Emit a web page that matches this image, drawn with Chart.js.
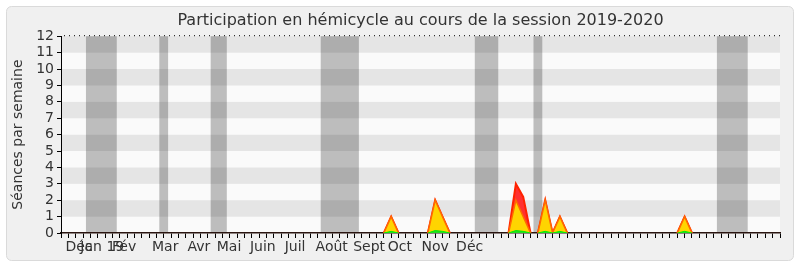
<!DOCTYPE html>
<html lang="fr">
<head>
<meta charset="UTF-8">
<title>Participation en hémicycle</title>
<script src="https://cdn.jsdelivr.net/npm/chart.js"></script>
<style>
  html, body { margin: 0; padding: 0; background: #fff; }
  #wrap { width: 800px; height: 267px; }
</style>
</head>
<body>
<div id="wrap"><canvas id="chart" width="800" height="267"></canvas></div>
<script>
// semaines de la session (0 .. 98)
const weeks = Array.from({ length: 99 }, (_, i) => i);

// séances par semaine
const totalSeances = [
  0, 0, 0, 0, 0, 0, 0, 0, 0, 0,
  0, 0, 0, 0, 0, 0, 0, 0, 0, 0,
  0, 0, 0, 0, 0, 0, 0, 0, 0, 0,
  0, 0, 0, 0, 0, 0, 0, 0, 0, 0,
  0, 0, 0, 0, 0, 1, 0, 0, 0, 0,
  0, 2, 1, 0, 0, 0, 0, 0, 0, 0,
  0, 0, 3, 2.2, 0, 0, 2, 0, 1, 0,
  0, 0, 0, 0, 0, 0, 0, 0, 0, 0,
  0, 0, 0, 0, 0, 1, 0, 0, 0, 0,
  0, 0, 0, 0, 0, 0, 0, 0, 0
];
const presences = [
  0, 0, 0, 0, 0, 0, 0, 0, 0, 0,
  0, 0, 0, 0, 0, 0, 0, 0, 0, 0,
  0, 0, 0, 0, 0, 0, 0, 0, 0, 0,
  0, 0, 0, 0, 0, 0, 0, 0, 0, 0,
  0, 0, 0, 0, 0, 1, 0, 0, 0, 0,
  0, 2, 1, 0, 0, 0, 0, 0, 0, 0,
  0, 0, 2, 1, 0, 0, 2, 0, 1, 0,
  0, 0, 0, 0, 0, 0, 0, 0, 0, 0,
  0, 0, 0, 0, 0, 1, 0, 0, 0, 0,
  0, 0, 0, 0, 0, 0, 0, 0, 0
];
const interventions = [
  0, 0, 0, 0, 0, 0, 0, 0, 0, 0,
  0, 0, 0, 0, 0, 0, 0, 0, 0, 0,
  0, 0, 0, 0, 0, 0, 0, 0, 0, 0,
  0, 0, 0, 0, 0, 0, 0, 0, 0, 0,
  0, 0, 0, 0, 0, 0.1, 0, 0, 0, 0,
  0, 0.15, 0.1, 0, 0, 0, 0, 0, 0, 0,
  0, 0, 0.15, 0.1, 0, 0, 0.1, 0, 0.1, 0,
  0, 0, 0, 0, 0, 0, 0, 0, 0, 0,
  0, 0, 0, 0, 0, 0.1, 0, 0, 0, 0,
  0, 0, 0, 0, 0, 0, 0, 0, 0
];

// vacances parlementaires (en semaines)
const vacStart = [3.4, 13.4, 20.4, 35.4, 56.4, 64.4, 89.4];
const vacEnd   = [7.6, 14.6, 22.6, 40.6, 59.6, 65.6, 93.6];

// étiquettes des mois
const monthLabels = ['Déc', 'Jan', '19', 'Fév', 'Mar', 'Avr', 'Mai', 'Juin', 'Juil', 'Août', 'Sept', 'Oct', 'Nov', 'Déc'];
const monthWeeks  = [2.45, 4.1, 7.4, 8.6, 14.2, 18.8, 22.9, 27.5, 31.9, 36.9, 42.0, 46.2, 51.0, 55.7];

const FONT = "'DejaVu Sans', sans-serif";

const backdrop = {
  id: 'backdrop',
  beforeDraw(chart) {
    const ctx = chart.ctx;
    const a = chart.chartArea;
    const x = chart.scales.x, y = chart.scales.y;
    ctx.save();
    ctx.fillStyle = '#ffffff';
    ctx.fillRect(0, 0, chart.width, chart.height);
    // cadre arrondi
    ctx.beginPath();
    ctx.roundRect(6.5, 6.5, 787, 254, 5);
    ctx.fillStyle = '#f0f0f0';
    ctx.fill();
    ctx.strokeStyle = '#dadada';
    ctx.lineWidth = 1;
    ctx.stroke();
    // bandes horizontales
    for (let v = 0; v < 12; v++) {
      const top = y.getPixelForValue(v + 1), bot = y.getPixelForValue(v);
      ctx.fillStyle = v % 2 ? '#e5e5e5' : '#fafafa';
      ctx.fillRect(a.left, top, a.right - a.left, bot - top);
    }
    // vacances
    ctx.fillStyle = 'rgba(0,0,0,0.245)';
    vacStart.forEach((s, i) => {
      const l = x.getPixelForValue(s), r = x.getPixelForValue(vacEnd[i]);
      ctx.fillRect(l, a.top, r - l, a.bottom - a.top);
    });
    ctx.restore();
  },
  afterDatasetsDraw(chart) {
    const ctx = chart.ctx;
    const a = chart.chartArea;
    ctx.save();
    ctx.strokeStyle = '#000';
    ctx.lineWidth = 1;
    ctx.setLineDash([1, 4]);
    ctx.beginPath();
    ctx.moveTo(a.left + 3, a.top - 0.5);
    ctx.lineTo(a.right, a.top - 0.5);
    ctx.stroke();
    ctx.restore();
  }
};

// pas de trait le long de la ligne zéro
const hideFlat = { borderColor: c => (c.p0.parsed.y === 0 && c.p1.parsed.y === 0) ? 'rgba(0,0,0,0)' : undefined };

new Chart(document.getElementById('chart'), {
  type: 'line',
  data: {
    labels: weeks,
    datasets: [
      {
        label: 'Interventions',
        data: interventions,
        fill: 'origin',
        backgroundColor: '#22dd22',
        borderColor: '#00ee00',
        borderWidth: 1,
        pointRadius: 0,
        tension: 0,
        segment: hideFlat
      },
      {
        label: 'Présences',
        data: presences,
        fill: 'origin',
        backgroundColor: '#ffd400',
        borderColor: '#ff6a00',
        borderWidth: 1.5,
        pointRadius: 0,
        tension: 0,
        segment: hideFlat
      },
      {
        label: 'Séances',
        data: totalSeances,
        fill: 'origin',
        backgroundColor: '#ff3030',
        borderColor: '#ff2200',
        borderWidth: 2,
        pointRadius: 0,
        tension: 0,
        segment: hideFlat
      }
    ]
  },
  options: {
    responsive: false,
    animation: false,
    layout: { padding: { left: 0, right: 20, top: 11, bottom: 0 } },
    plugins: {
      legend: { display: false },
      tooltip: { enabled: false },
      title: {
        display: true,
        fullSize: false,
        text: 'Participation en hémicycle au cours de la session 2019-2020',
        color: '#333',
        font: { family: FONT, size: 16, weight: 'normal' },
        padding: { top: 0, bottom: 6 }
      }
    },
    scales: {
      x: {
        type: 'linear',
        min: 0,
        max: 98,
        position: 'bottom',
        z: 1,
        afterFit: s => { s.height = 6; },
        ticks: { display: false, stepSize: 1 },
        grid: { drawOnChartArea: false, tickLength: 5, color: '#000' },
        border: { display: true, color: '#2a1510', width: 1.5 }
      },
      x2: {
        type: 'linear',
        min: 0,
        max: 98,
        position: 'bottom',
        afterFit: s => { s.height = 28; },
        afterBuildTicks: s => { s.ticks = monthWeeks.map(v => ({ value: v })); },
        ticks: {
          autoSkip: false,
          maxRotation: 0,
          padding: 0,
          color: '#333',
          font: { family: FONT, size: 14 },
          callback: (v, i) => monthLabels[i]
        },
        grid: { display: false, drawTicks: false },
        border: { display: false }
      },
      y: {
        min: 0,
        max: 12,
        afterFit: s => { s.width = 61; },
        ticks: {
          stepSize: 1,
          autoSkip: false,
          padding: 3,
          color: '#333',
          font: { family: FONT, size: 14 }
        },
        grid: { drawOnChartArea: false, tickLength: 4, color: '#000' },
        border: { display: true, color: '#000' },
        title: {
          display: true,
          text: 'Séances par semaine',
          color: '#333',
          font: { family: FONT, size: 14 },
          padding: { top: 10, bottom: 0 }
        }
      }
    }
  },
  plugins: [backdrop]
});
</script>
</body>
</html>
